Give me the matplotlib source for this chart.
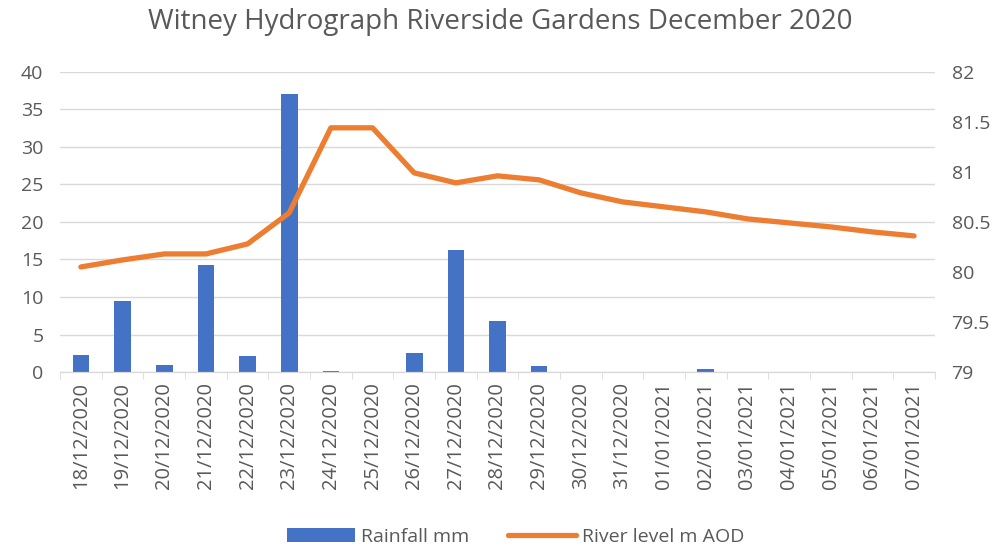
import matplotlib.pyplot as plt
import numpy as np

plt.rcParams["font.family"] = ["Open Sans", "DejaVu Sans"]

dates = ["18/12/2020", "19/12/2020", "20/12/2020", "21/12/2020", "22/12/2020",
         "23/12/2020", "24/12/2020", "25/12/2020", "26/12/2020", "27/12/2020",
         "28/12/2020", "29/12/2020", "30/12/2020", "31/12/2020", "01/01/2021",
         "02/01/2021", "03/01/2021", "04/01/2021", "05/01/2021", "06/01/2021",
         "07/01/2021"]
rainfall = [2.3, 9.4, 1.0, 14.3, 2.1, 37.1, 0.2, 0.0, 2.5, 16.2, 6.8, 0.8,
            0.0, 0.0, 0.0, 0.4, 0.0, 0.0, 0.0, 0.0, 0.0]
river_level = [80.05, 80.12, 80.18, 80.18, 80.28, 80.59, 81.44, 81.44, 80.99,
               80.89, 80.96, 80.92, 80.79, 80.70, 80.65, 80.60, 80.53, 80.49,
               80.45, 80.40, 80.36]

grey = "#595959"
fig = plt.figure(figsize=(10.01, 5.52), dpi=100)
ax = fig.add_axes([0.06, 0.326, 0.874, 0.544])
x = np.arange(len(dates))

ax.bar(x, rainfall, width=0.4, color="#4472C4", label="Rainfall mm", zorder=2)
ax.set_ylim(0, 40)
ax.set_yticks(range(0, 41, 5))
ax.set_xlim(-0.5, len(dates) - 0.5)
ax.grid(axis="y", color="#d9d9d9", linewidth=1, zorder=0)
ax.set_axisbelow(True)

ax2 = ax.twinx()
ax2.plot(x, river_level, color="#ED7D31", linewidth=3.8, label="River level m AOD",
         solid_capstyle="round", zorder=3)
ax2.set_ylim(79, 82)
ax2.set_yticks([79, 79.5, 80, 80.5, 81, 81.5, 82])
ax2.set_yticklabels(["79", "79.5", "80", "80.5", "81", "81.5", "82"])

for a in (ax, ax2):
    for s in ("top", "left", "right"):
        a.spines[s].set_visible(False)
    a.spines["bottom"].set_color("#d9d9d9")
    a.tick_params(axis="y", length=0, labelsize=14, labelcolor=grey, pad=12)

ax.set_xticks(x)
ax.set_xticklabels(dates, rotation=90, fontsize=14.5, color=grey)
ax.tick_params(axis="x", length=0, pad=7)
ax.set_xticks(np.arange(-0.5, len(dates)), minor=True)
ax.tick_params(axis="x", which="minor", length=5, color="#d9d9d9")

fig.suptitle("Witney Hydrograph Riverside Gardens December 2020", y=0.985,
             fontsize=20, color=grey)

h1, l1 = ax.get_legend_handles_labels()
h2, l2 = ax2.get_legend_handles_labels()
fig.legend(h1 + h2, l1 + l2, loc="lower center", bbox_to_anchor=(0.515, -0.02),
           ncol=2, frameon=False, fontsize=14, labelcolor=grey,
           handlelength=3.5, handletextpad=0.3, columnspacing=2.0)

fig.savefig("out.png", dpi=100)
